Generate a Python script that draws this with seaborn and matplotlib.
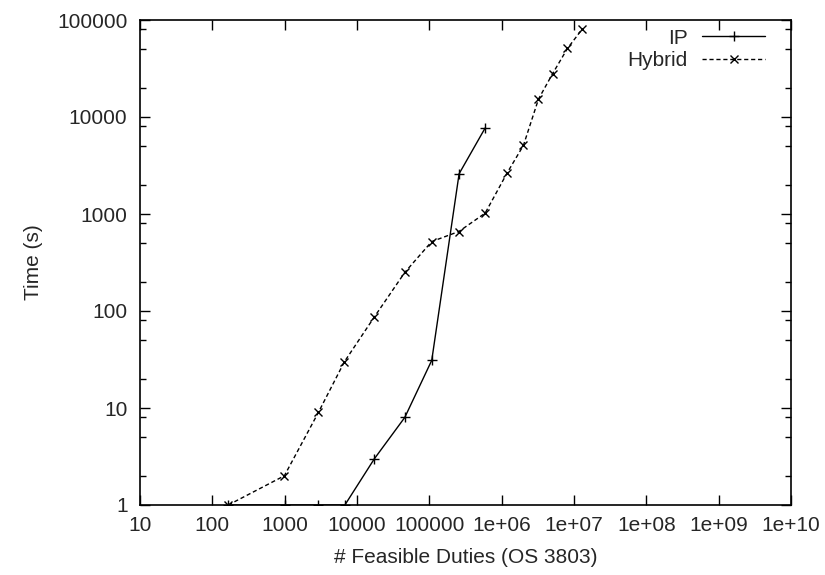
import numpy as np
import pandas as pd
import matplotlib
matplotlib.use("Agg")
import matplotlib.pyplot as plt
from matplotlib.ticker import FixedLocator, NullFormatter
import seaborn as sns

# values
ip_duties = [166, 1000, 2925, 6800, 17400, 45800, 108000, 258000, 591000]
ip_time = [1, 1, 1, 1, 3, 8, 31, 2600, 7700]

hybrid_duties = [166, 990, 2925, 6700, 17400, 45800, 108000, 256000, 591000,
                 1190000, 2000000, 3230000, 5050000, 8130000, 12900000]
hybrid_time = [1, 2, 9, 30, 87, 250, 520, 660, 1020,
               2650, 5100, 15300, 27900, 51000, 80000]

x_ticks = [10, 100, 1000, 10000, 100000, 1e6, 1e7, 1e8, 1e9, 1e10]
x_labels = ["10", "100", "1000", "10000", "100000", "1e+06", "1e+07", "1e+08", "1e+09", "1e+10"]
y_ticks = [1, 10, 100, 1000, 10000, 100000]
y_labels = ["1", "10", "100", "1000", "10000", "100000"]

sns.set_style("ticks")
plt.rcParams["font.family"] = ["Liberation Sans", "DejaVu Sans"]
plt.rcParams["font.size"] = 15

fig = plt.figure(figsize=(8.25, 5.75), dpi=100)
ax = fig.add_axes([140 / 825, 1 - 505 / 575, 651 / 825, 485 / 575])

ip = pd.DataFrame({"duties": ip_duties, "time": ip_time})
hyb = pd.DataFrame({"duties": hybrid_duties, "time": hybrid_time})

sns.lineplot(data=ip, x="duties", y="time", ax=ax, color="black", linewidth=1,
             marker="+", markersize=6.5, markeredgewidth=1, markeredgecolor="black",
             sort=False, label="IP")
sns.lineplot(data=hyb, x="duties", y="time", ax=ax, color="black", linewidth=1,
             linestyle=(0, (3, 2)), marker="x", markersize=6, markeredgewidth=1,
             markeredgecolor="black", sort=False, label="Hybrid")

ax.set_xscale("log")
ax.set_yscale("log")
ax.set_xlim(10, 1e10)
ax.set_ylim(1, 100000)

ax.xaxis.set_major_locator(FixedLocator(x_ticks))
ax.set_xticklabels(x_labels)
ax.xaxis.set_minor_locator(FixedLocator([]))
ax.yaxis.set_major_locator(FixedLocator(y_ticks))
ax.set_yticklabels(y_labels)
minor_y = [d * m for d in y_ticks[:-1] for m in (2, 5, 8)]
ax.yaxis.set_minor_locator(FixedLocator(minor_y))
ax.yaxis.set_minor_formatter(NullFormatter())

ax.tick_params(which="both", direction="in", top=True, right=True, width=1, color="black")
ax.tick_params(which="major", length=7, labelsize=15)
ax.tick_params(axis="x", which="major", pad=8)
ax.tick_params(axis="y", which="major", pad=9)
ax.tick_params(which="minor", length=4)
for s in ax.spines.values():
    s.set_linewidth(1.2)
    s.set_color("black")

ax.set_xlabel("# Feasible Duties (OS 3803)", fontsize=15, labelpad=9)
ax.set_ylabel("Time (s)", fontsize=15, labelpad=10)

leg = ax.legend(loc="upper right", bbox_to_anchor=(0.960, 0.982), frameon=False,
                markerfirst=False, handlelength=3.0, handletextpad=0.7,
                labelspacing=0.15, borderpad=0, borderaxespad=0, fontsize=15,
                numpoints=1)

fig.savefig("out.png", dpi=100)
